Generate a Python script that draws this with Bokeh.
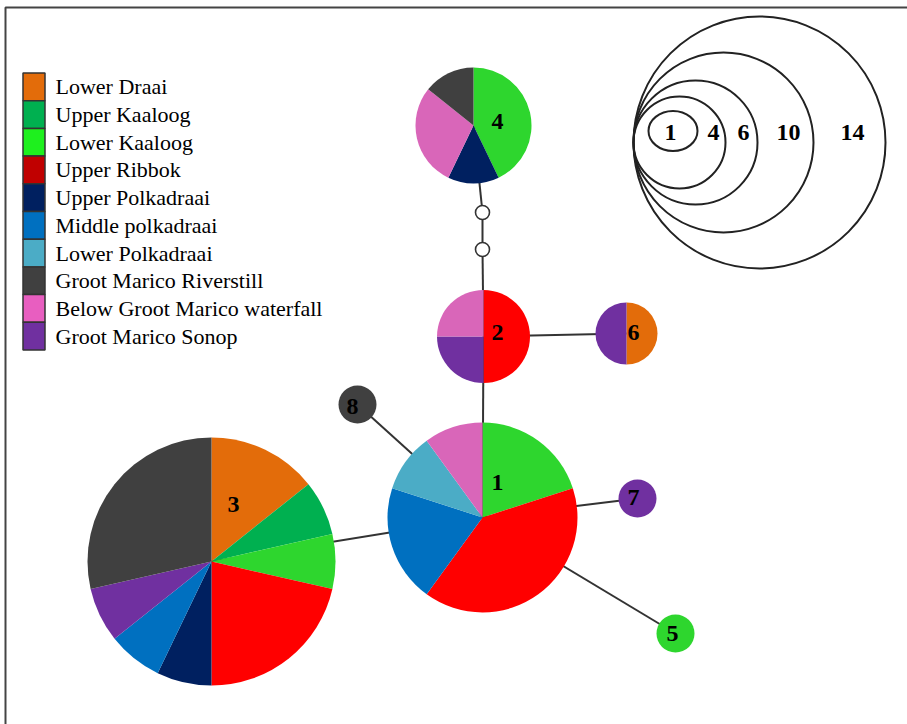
import math
from bokeh.plotting import figure
from bokeh.models import Range1d
from bokeh.embed import file_html
from bokeh.resources import INLINE
from bokeh.core.properties import value

# ---------------- data ----------------
populations = ["Lower Draai", "Upper Kaaloog", "Lower Kaaloog", "Upper Ribbok",
               "Upper Polkadraai", "Middle polkadraai", "Lower Polkadraai",
               "Groot Marico Riverstill", "Below Groot Marico waterfall",
               "Groot Marico Sonop"]
haplotypes = ["1", "2", "3", "4", "5", "6", "7", "8"]

# individuals of each haplotype (1..8) per population
lower_draai             = [0, 0, 2, 0, 0, 1, 0, 0]
upper_kaaloog           = [0, 0, 1, 0, 0, 0, 0, 0]
lower_kaaloog           = [2, 0, 1, 3, 1, 0, 0, 0]
upper_ribbok            = [4, 2, 3, 0, 0, 0, 0, 0]
upper_polkadraai        = [0, 0, 1, 1, 0, 0, 0, 0]
middle_polkadraai       = [2, 0, 1, 0, 0, 0, 0, 0]
lower_polkadraai        = [1, 0, 0, 0, 0, 0, 0, 0]
groot_marico_riverstill = [0, 0, 4, 1, 0, 0, 0, 1]
below_waterfall         = [1, 1, 0, 2, 0, 0, 0, 0]
groot_marico_sonop      = [0, 1, 1, 0, 0, 1, 1, 0]

counts = [lower_draai, upper_kaaloog, lower_kaaloog, upper_ribbok,
          upper_polkadraai, middle_polkadraai, lower_polkadraai,
          groot_marico_riverstill, below_waterfall, groot_marico_sonop]

# network edges (haplotypes and median vectors)
edge_from = ["4", "mv1", "mv2", "2", "2", "1", "1", "1", "1"]
edge_to   = ["mv1", "mv2", "2", "6", "1", "8", "3", "7", "5"]

# size-scale legend
scale_values = ["1", "4", "6", "10", "14"]

# ---------------- styles / layout ----------------
slice_colors = ["#E36C0A", "#00B050", "#2ED62E", "#FF0000", "#002060",
                "#0070C0", "#4BACC6", "#404040", "#D966B9", "#7030A0"]
legend_colors = ["#E36C0A", "#00B050", "#1EF01E", "#C00000", "#002060",
                 "#0070C0", "#4BACC6", "#404040", "#E85EC0", "#7030A0"]
slice_order = [0, 1, 2, 3, 4, 5, 6, 9, 8, 7]

W, H = 907, 724
node_x = {"1": 482, "2": 483, "3": 211, "4": 473, "5": 675, "6": 626,
          "7": 637, "8": 357, "mv1": 482, "mv2": 482}
node_y = {"1": 207, "2": 388, "3": 163, "4": 599, "5": 91, "6": 391,
          "7": 226, "8": 320, "mv1": 512, "mv2": 475}
node_r = {"1": 95, "2": 46.5, "3": 124, "4": 58, "5": 19, "6": 31,
          "7": 19, "8": 19}
label_xy = {"1": (497, 242), "2": (497, 392), "3": (233, 220), "4": (497, 603),
            "5": (672, 91), "6": (633, 392), "7": (633, 227), "8": (352, 318)}

SERIF = "Liberation Serif"

p = figure(width=W, height=H, x_range=Range1d(0, W), y_range=Range1d(0, H),
           output_backend="svg", toolbar_location=None,
           x_axis_location=None, y_axis_location=None,
           min_border=0, outline_line_color=None)
p.xgrid.visible = False
p.ygrid.visible = False
p.background_fill_color = "white"
p.border_fill_color = "white"

# frame (left and top edges visible)
p.line([5, 5, W + 20], [-20, H - 7, H - 7], line_color="#444444", line_width=2)

# edges
for a, b in zip(edge_from, edge_to):
    p.line([node_x[a], node_x[b]], [node_y[a], node_y[b]],
           line_color="#333333", line_width=2)

# median vectors
p.circle([node_x["mv1"], node_x["mv2"]], [node_y["mv1"], node_y["mv2"]],
         radius=7, fill_color="white", line_color="#333333", line_width=1.6)

# pies
for j, h in enumerate(haplotypes):
    vals = [counts[i][j] for i in slice_order]
    total = sum(vals)
    cx, cy, r = node_x[h], node_y[h], node_r[h]
    nonzero = [k for k, v in enumerate(vals) if v > 0]
    if len(nonzero) == 1:
        p.circle([cx], [cy], radius=r,
                 fill_color=slice_colors[slice_order[nonzero[0]]], line_color=None)
    else:
        cum = 0
        for k, v in enumerate(vals):
            if v == 0:
                continue
            a0 = math.pi / 2 - 2 * math.pi * cum / total
            cum += v
            a1 = math.pi / 2 - 2 * math.pi * cum / total
            p.wedge([cx], [cy], radius=r, start_angle=a1, end_angle=a0,
                    direction="anticlock",
                    fill_color=slice_colors[slice_order[k]], line_color=None)
    lx, ly = label_xy[h]
    p.text([lx], [ly], text=[h], text_font=value(SERIF), text_font_style="bold",
           text_font_size="24px", text_align="center", text_baseline="middle",
           text_color="black")

# legend
row_h = 27.7
top = H - 72.5
for i, name in enumerate(populations):
    yc = top - row_h * (i + 0.5)
    p.rect([33.5], [yc], width=22, height=row_h, fill_color=legend_colors[i],
           line_color="#333333", line_width=1.5)
    p.text([55], [yc], text=[name], text_font=value(SERIF), text_font_size="22px",
           text_align="left", text_baseline="middle", text_color="black")

# size scale
scale_r = {"4": 46, "6": 62, "10": 90, "14": 126}
scale_lx = {"1": 670, "4": 713, "6": 743, "10": 788, "14": 852}
left_x, scy = 633, H - 142
for v in scale_values:
    if v == "1":
        p.ellipse([672.5], [H - 130.5], width=49, height=40, fill_color=None,
                  line_color="#222222", line_width=2)
    else:
        rr = scale_r[v]
        p.circle([left_x + rr], [scy], radius=rr, fill_color=None,
                 line_color="#222222", line_width=2)
    p.text([scale_lx[v]], [H - 132], text=[v], text_font=value(SERIF),
           text_font_style="bold", text_font_size="24px", text_align="center",
           text_baseline="middle", text_color="black")

open("out.html", "w").write(file_html(p, INLINE))
